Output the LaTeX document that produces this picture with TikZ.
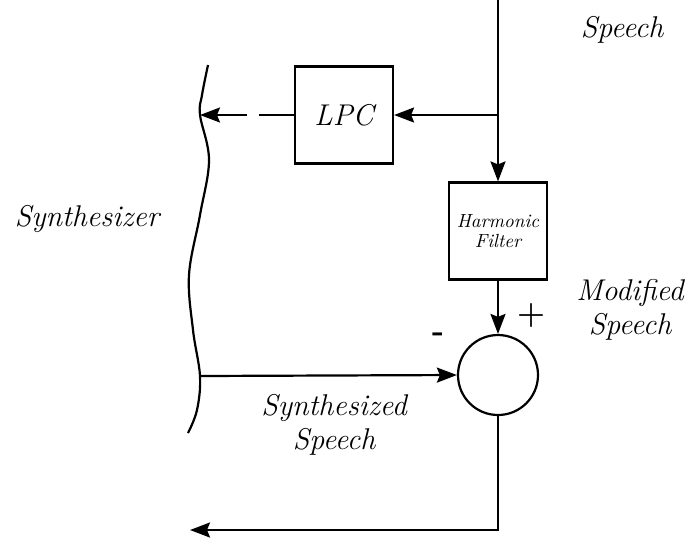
\documentclass[tikz,border=0pt]{standalone}
\usepackage{fontspec}
\usepackage{tikz}
\usetikzlibrary{arrows.meta, positioning}
\tikzset{
  block/.style={rectangle, draw, line width=1.1pt, minimum width=49pt, minimum height=48.5pt, align=center, inner sep=1pt},
  sumnode/.style={circle, draw, line width=1.1pt, minimum size=40pt, inner sep=0pt},
  arrow/.style={-{Stealth[length=10pt, width=7.5pt, inset=1.5pt]}, line width=1.1pt},
  wire/.style={line width=1.1pt},
  lbl/.style={font=\fontsize{15}{17}\selectfont\itshape, align=center, inner sep=0pt},
  small/.style={font=\fontsize{9.5}{10}\selectfont\itshape, align=center, inner sep=0pt},
}

\begin{document}
\begin{tikzpicture}[x=0.5pt, y=-0.5pt]
  \useasboundingbox (0,0) rectangle (691,538);

  \node (lpc) [block, lbl] at (344,115) {LPC};
  \node (filter) [block] at (498,231) {};
  \node (filtertxt) [small] at (filter.center) {Harmonic\\[0pt]Filter};
  \node (sum) [sumnode] at (498,375) {};

  \coordinate (in) at (498,0);
  \coordinate (tap) at (498,115);
  \coordinate (synthtop) at (200,115);
  \coordinate (synthin) at (200,376);
  \coordinate (out) at (190,530);

  % synthesizer edge
  \draw [wire] plot [smooth, tension=0.6] coordinates {(208,65) (202,95) (200,115) (209,160) (200,215) (189,275) (193,330) (200,376) (197,410) (188,433)};

  \draw [arrow] (in) -- (filter.north);
  \draw [arrow] (tap) -- (lpc.east);
  \draw [arrow, dash pattern=on 17.5pt off 6pt on 40pt] (lpc.west) -- (synthtop);
  \draw [arrow] (filter.south) -- (sum.north);
  \draw [arrow] (synthin) -- (sum.west);
  \draw [arrow] (sum.south) |- (out);

  \node (speech) [lbl] at (622,30) {Speech};
  \node (synth) [lbl] at (87,219) {Synthesizer};
  \node (modified) [lbl] at (630,310) {Modified\\Speech};
  \node (synthesized) [lbl] at (334,425) {Synthesized\\Speech};
  \node (plus) [font=\fontsize{16}{17}\selectfont\bfseries, inner sep=0pt] at (531,316) {+};
  \node (minus) [font=\fontsize{16}{17}\selectfont\bfseries, inner sep=0pt] at (438,337) {-};

\end{tikzpicture}
\end{document}
